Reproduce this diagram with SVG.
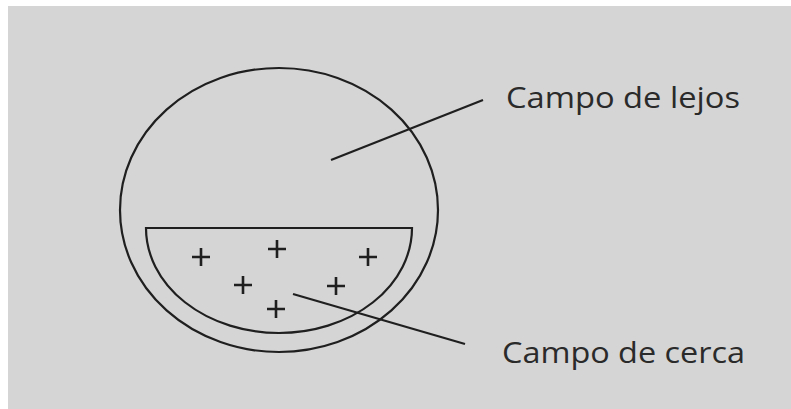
<svg xmlns="http://www.w3.org/2000/svg" width="791" height="409" viewBox="0 0 791 409">
<style>
.ln{fill:none;stroke:#1f1f1f;stroke-width:2.2}
.pl{stroke:#1f1f1f;stroke-width:2.6}
.lb{font-family:"Open Sans","Liberation Sans",sans-serif;font-size:30px;fill:#2a2a2a}
</style>
<defs>
<path id="plus" class="pl" d="M-9,0H9M0,-9V9"/>
</defs>
<rect x="0" y="0" width="791" height="409" fill="#ffffff"/>
<rect x="8" y="6" width="783" height="403" fill="#d5d5d5"/>
<g id="outer-field">
<ellipse class="ln" cx="279" cy="210" rx="159" ry="142"/>
</g>
<g id="near-field">
<path class="ln" d="M146,228 L412,228 A133,105 0 0 1 146,228 Z"/>
<use href="#plus" x="201" y="257"/>
<use href="#plus" x="277" y="249"/>
<use href="#plus" x="368" y="257"/>
<use href="#plus" x="243" y="285"/>
<use href="#plus" x="336" y="286"/>
<use href="#plus" x="276" y="309"/>
</g>
<g id="connectors">
<line class="ln" x1="331" y1="160" x2="483" y2="100"/>
<line class="ln" x1="293" y1="294" x2="465" y2="344"/>
</g>
<g id="label-lejos">
<text class="lb" x="506" y="108" textLength="234" lengthAdjust="spacingAndGlyphs">Campo de lejos</text>
</g>
<g id="label-cerca">
<text class="lb" x="502" y="363" textLength="243" lengthAdjust="spacingAndGlyphs">Campo de cerca</text>
</g>
</svg>
